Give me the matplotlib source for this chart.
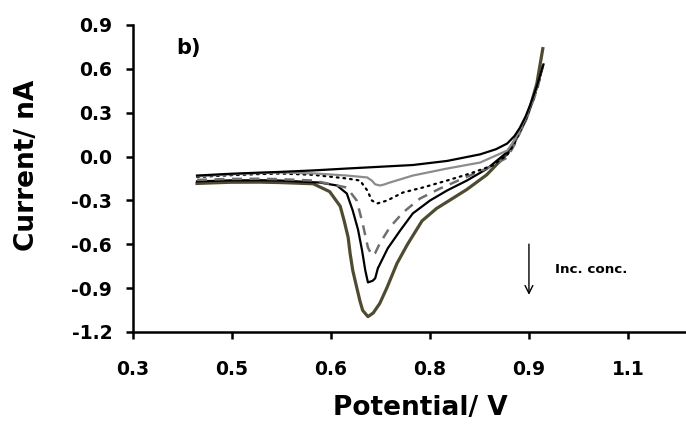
import matplotlib
matplotlib.use("Agg")
import matplotlib.pyplot as plt

plt.rcParams["font.family"] = ["DejaVu Sans"]
plt.rcParams["font.weight"] = "bold"

# voltammograms (potential in V, current in nA)
olive_v = [0.397, 0.447, 0.492, 0.523, 0.573, 0.598, 0.614, 0.620, 0.626, 0.629, 0.633, 0.639,
           0.644, 0.648, 0.656, 0.664, 0.674, 0.685, 0.700, 0.716, 0.738, 0.760, 0.776, 0.806,
           0.836, 0.852, 0.867, 0.878, 0.886, 0.895, 0.902, 0.912, 0.921]
olive_i = [-0.184, -0.176, -0.175, -0.178, -0.186, -0.240, -0.340, -0.440, -0.553, -0.663, -0.779,
           -0.895, -0.990, -1.052, -1.095, -1.070, -1.004, -0.895, -0.731, -0.600, -0.440, -0.355,
           -0.310, -0.225, -0.125, -0.050, 0.020, 0.100, 0.170, 0.250, 0.340, 0.500, 0.738]

black_v = [0.397, 0.447, 0.492, 0.523, 0.583, 0.609, 0.624, 0.633, 0.641, 0.647, 0.652, 0.656,
           0.663, 0.667, 0.671, 0.686, 0.705, 0.724, 0.750, 0.776, 0.806, 0.836, 0.867, 0.878,
           0.886, 0.895, 0.902, 0.912, 0.922]
black_i = [-0.170, -0.163, -0.162, -0.164, -0.178, -0.198, -0.253, -0.370, -0.500, -0.640, -0.779,
           -0.861, -0.850, -0.833, -0.765, -0.628, -0.505, -0.389, -0.301, -0.232, -0.164, -0.085,
           0.030, 0.110, 0.180, 0.260, 0.340, 0.470, 0.630]

dash_v = [0.397, 0.447, 0.492, 0.523, 0.573, 0.624, 0.639, 0.648, 0.656, 0.662, 0.667, 0.674,
          0.689, 0.709, 0.735, 0.765, 0.800, 0.836, 0.867, 0.878, 0.886, 0.895, 0.902, 0.912, 0.920]
dash_i = [-0.160, -0.153, -0.152, -0.155, -0.164, -0.212, -0.301, -0.458, -0.622, -0.676, -0.660,
          -0.594, -0.485, -0.383, -0.287, -0.219, -0.150, -0.082, -0.007, 0.080, 0.160, 0.250,
          0.330, 0.450, 0.600]

dot_v = [0.397, 0.447, 0.492, 0.523, 0.573, 0.624, 0.644, 0.655, 0.662, 0.670, 0.685, 0.709,
         0.739, 0.776, 0.811, 0.845, 0.867, 0.878, 0.886, 0.895, 0.902, 0.912, 0.920]
dot_i = [-0.140, -0.128, -0.120, -0.116, -0.125, -0.150, -0.164, -0.232, -0.301, -0.321, -0.301,
         -0.246, -0.212, -0.164, -0.116, -0.061, 0.010, 0.090, 0.170, 0.255, 0.335, 0.460, 0.600]

gray_v = [0.397, 0.447, 0.492, 0.523, 0.573, 0.624, 0.655, 0.662, 0.667, 0.674, 0.680, 0.689,
          0.724, 0.776, 0.826, 0.867, 0.878, 0.886, 0.895, 0.902, 0.912, 0.920]
gray_i = [-0.135, -0.122, -0.113, -0.109, -0.115, -0.130, -0.143, -0.165, -0.190, -0.198, -0.192,
          -0.178, -0.130, -0.082, -0.041, 0.041, 0.110, 0.180, 0.265, 0.345, 0.465, 0.610]

top_v = [0.397, 0.447, 0.492, 0.523, 0.573, 0.624, 0.674, 0.724, 0.776, 0.826, 0.850, 0.867,
         0.878, 0.886, 0.895, 0.902, 0.912, 0.921]
top_i = [-0.130, -0.118, -0.110, -0.105, -0.095, -0.082, -0.070, -0.058, -0.030, 0.015, 0.050,
         0.089, 0.140, 0.195, 0.275, 0.355, 0.480, 0.620]

x_ticks = [0.3, 0.45, 0.6, 0.75, 0.9, 1.05]
x_tick_labels = ["0.3", "0.5", "0.6", "0.8", "0.9", "1.1"]
y_ticks = [0.9, 0.6, 0.3, 0.0, -0.3, -0.6, -0.9, -1.2]
y_tick_labels = ["0.9", "0.6", "0.3", "0.0", "-0.3", "-0.6", "-0.9", "-1.2"]


def main():
    fig = plt.figure(figsize=(6.86, 4.26), dpi=100)
    ax = fig.add_axes([0.1939, 0.2207, 0.8061, 0.7207])

    ax.plot(olive_v, olive_i, color="#4f4b30", lw=2.3)
    ax.plot(black_v, black_i, color="black", lw=1.6)
    ax.plot(dash_v, dash_i, color="#6f6f6f", lw=1.8, ls=(0, (4, 3)))
    ax.plot(dot_v, dot_i, color="black", lw=1.6, ls=(0, (0.8, 2.2)), dash_capstyle="round")
    ax.plot(gray_v, gray_i, color="#8c8c8c", lw=1.6)
    ax.plot(top_v, top_i, color="black", lw=1.6)

    ax.set_xlim(0.3, 1.138)
    ax.set_ylim(-1.2, 0.9)
    ax.set_xticks(x_ticks)
    ax.set_xticklabels(x_tick_labels)
    ax.set_yticks(y_ticks)
    ax.set_yticklabels(y_tick_labels)

    for side in ["top", "right"]:
        ax.spines[side].set_visible(False)
    for side in ["left", "bottom"]:
        ax.spines[side].set_linewidth(1.8)
    ax.tick_params(width=1.8, length=5, labelsize=13.5, direction="out")
    ax.tick_params(axis="y", pad=10)
    ax.tick_params(axis="x", pad=15)

    ax.set_xlabel("Potential/ V", fontsize=19, fontweight="bold", va="top")
    ax.xaxis.set_label_coords(0.519, -0.205)
    ax.set_ylabel("Current/ nA", fontsize=19, fontweight="bold")
    ax.yaxis.set_label_coords(-0.168, 0.544)

    ax.text(0.366, 0.745, "b)", fontsize=15, fontweight="bold", va="center")
    ax.annotate("", xy=(0.9, -0.965), xytext=(0.9, -0.58),
                arrowprops=dict(arrowstyle="->", color="black", lw=1.0, mutation_scale=14))
    ax.text(0.939, -0.772, "Inc. conc.", fontsize=9.7, fontweight="bold", va="center")

    fig.savefig("out.png", dpi=100)


if __name__ == "__main__":
    main()
